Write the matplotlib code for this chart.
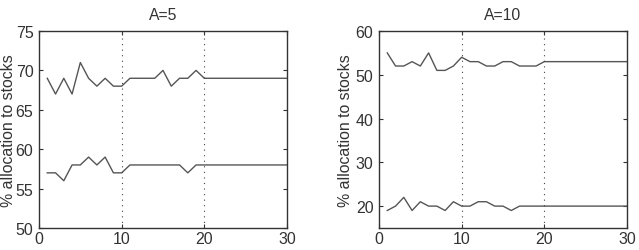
import numpy as np
import matplotlib
matplotlib.use('Agg')
import matplotlib.pyplot as plt

plt.rcParams['font.family'] = ['Liberation Sans', 'DejaVu Sans']

periods = np.arange(1, 31)

# A=5
a5_high = [69, 67, 69, 67, 71, 69, 68, 69, 68, 68, 69, 69, 69, 69, 70,
           68, 69, 69, 70, 69, 69, 69, 69, 69, 69, 69, 69, 69, 69, 69]
a5_low = [57, 57, 56, 58, 58, 59, 58, 59, 57, 57, 58, 58, 58, 58, 58,
          58, 58, 57, 58, 58, 58, 58, 58, 58, 58, 58, 58, 58, 58, 58]

# A=10
a10_high = [55, 52, 52, 53, 52, 55, 51, 51, 52, 54, 53, 53, 52, 52, 53,
            53, 52, 52, 52, 53, 53, 53, 53, 53, 53, 53, 53, 53, 53, 53]
a10_low = [19, 20, 22, 19, 21, 20, 20, 19, 21, 20, 20, 21, 21, 20, 20,
           19, 20, 20, 20, 20, 20, 20, 20, 20, 20, 20, 20, 20, 20, 20]

fig = plt.figure(figsize=(6.39, 2.51), dpi=100)
ax1 = fig.add_axes([39/639, 1-229/251, 248/639, 197/251])
ax2 = fig.add_axes([379/639, 1-229/251, 248/639, 197/251])

line_col = '#555555'

def panel(ax, hi, lo, title, ylim, yticks, lpad):
    ax.plot(periods, hi, '-', color=line_col, lw=1.0)
    ax.plot(periods, lo, '-', color=line_col, lw=1.0)
    for xv in (10, 20):
        ax.axvline(xv, color='#444444', lw=0.8, ls=(0, (1, 4)))
    ax.set_xlim(0, 30)
    ax.set_ylim(*ylim)
    ax.set_xticks([0, 10, 20, 30])
    ax.set_yticks(yticks)
    ax.tick_params(direction='in', top=True, right=True, labelsize=11.5,
                   length=3, width=0.8, colors='#333333')
    ax.tick_params(axis='x', pad=2)
    ax.tick_params(axis='y', pad=4)
    for s in ax.spines.values():
        s.set_color('#333333')
        s.set_linewidth(1.0)
    ax.set_title(title, fontsize=11.3, color='#333333', pad=9)
    ax.set_ylabel('% allocation to stocks', fontsize=11.4, color='#333333',
                  labelpad=lpad)

panel(ax1, a5_high, a5_low, 'A=5', (50, 75), [50, 55, 60, 65, 70, 75], 0)
panel(ax2, a10_high, a10_low, 'A=10', (15, 60), [20, 30, 40, 50, 60], 2)

fig.savefig('out.png', dpi=100)
